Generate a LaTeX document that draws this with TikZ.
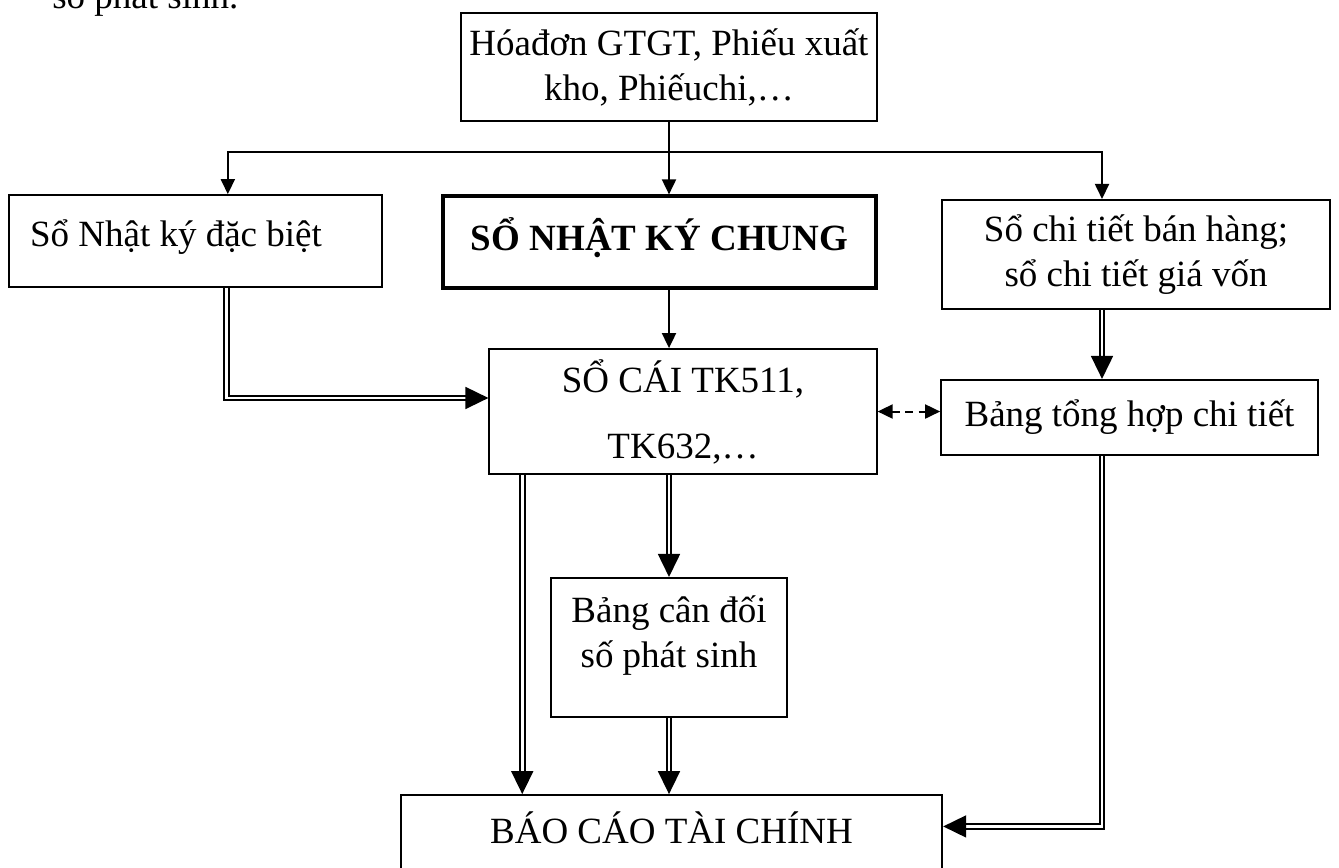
\documentclass[tikz,border=0pt]{standalone}
\usepackage{fontspec}
\setmainfont{Liberation Serif}
\usepackage{tikz}
\usetikzlibrary{arrows.meta}

\begin{document}
\begin{tikzpicture}[x=1.33cm,y=-1.33cm,
    every node/.style={font=\fontsize{14pt}{17pt}\selectfont},
    box/.style={draw, line width=0.75pt, align=center, inner sep=2pt},
    arr/.style={line width=0.75pt, -{Triangle[length=5.7pt,width=5.3pt]}},
    dbl/.style={double, line width=0.7pt, double distance=1.1pt,
        -{Triangle[length=8.7pt,width=8.3pt]}}]

    \useasboundingbox (0,0) rectangle (13.39,8.67);

    \node[anchor=base west] (prev) at (0.43,0.08) {số phát sinh.};

    % chung tu
    \node[box, minimum width=5.53cm, minimum height=1.44cm] (src) at (6.69,0.67)
        {Hóađơn GTGT, Phiếu xuất\\kho, Phiếuchi,…};

    % so nhat ky
    \node[box, minimum width=4.96cm, minimum height=1.22cm, text width=4.4cm,
        align=flush left, inner sep=0.28cm] (nkdb) at (1.955,2.41)
        {Sổ Nhật ký đặc biệt\\[-11pt]\mbox{}};
    \node[box, line width=1.3pt, minimum width=5.76cm, minimum height=1.22cm,
        font=\fontsize{14pt}{17pt}\selectfont\bfseries] (nkc) at (6.595,2.42)
        {SỔ NHẬT KÝ CHUNG\\[-11pt]\mbox{}};
    \node[box, minimum width=5.16cm, minimum height=1.45cm] (sct) at (11.36,2.545)
        {Sổ chi tiết bán hàng;\\sổ chi tiết giá vốn};

    % so cai
    \node[box, minimum width=5.15cm, minimum height=1.66cm] (socai) at (6.83,4.115)
        {SỔ CÁI TK511,\\[8pt]TK632,…};
    \node[box, minimum width=5.01cm, minimum height=1.0cm] (bth) at (11.295,4.175)
        {Bảng tổng hợp chi tiết};

    \node[box, minimum width=3.14cm, minimum height=1.85cm] (bcd) at (6.69,6.475)
        {Bảng cân đối\\số phát sinh\\[-5pt]\mbox{}};

    % bao cao
    \node[box, minimum width=7.2cm, minimum height=1.86cm] (bctc) at (6.715,8.65)
        {BÁO CÁO TÀI CHÍNH\\[11pt]\mbox{}};

    \coordinate (split) at (6.69,1.52);
    \coordinate (rcol) at (11.02,1.52);

    \draw[line width=0.75pt] (src.south) -- (split);
    \draw[arr] (split) -- (split |- nkc.north);
    \draw[arr] (split) -| ([xshift=0.43cm]nkdb.north);
    \draw[arr] (split) -| (rcol |- sct.north);
    \draw[arr] (split |- nkc.south) -- (split |- socai.north);

    \draw[dbl] ([xshift=0.41cm]nkdb.south) |- ([yshift=0.18cm]socai.west);
    \draw[dbl] ([xshift=0.45cm]socai.south west) -- ([xshift=0.45cm]socai.south west |- bctc.north);
    \draw[dbl] (socai.south -| bcd.north) -- (bcd.north);
    \draw[dbl] (bcd.south) -- (bcd.south |- bctc.north);
    \draw[dbl] (rcol |- sct.south) -- (rcol |- bth.north);
    \draw[dbl] (rcol |- bth.south) |- ([yshift=-0.43cm]bctc.north east);

    \draw[line width=0.75pt, dash pattern=on 3pt off 2pt,
        {Triangle[length=5.7pt,width=5.3pt]}-{Triangle[length=5.7pt,width=5.3pt]}]
        (socai.east) -- (socai.east -| bth.west);

\end{tikzpicture}
\end{document}
